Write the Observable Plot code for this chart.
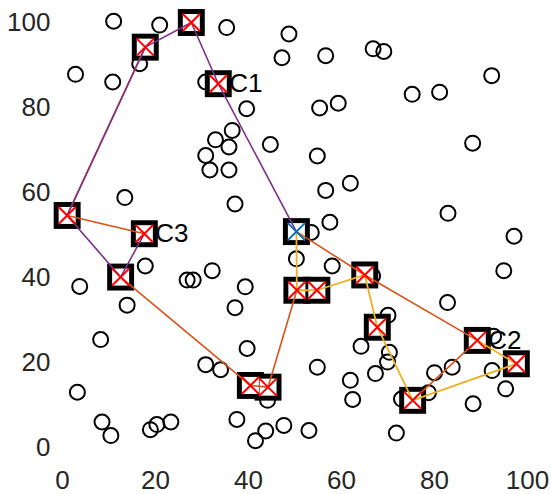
<!DOCTYPE html>
<html><head><meta charset="utf-8">
<script src="https://cdn.jsdelivr.net/npm/d3@7"></script>
<script src="https://cdn.jsdelivr.net/npm/@observablehq/plot@0.6"></script>
<style>body{margin:0;background:#fff} svg{display:block}</style>
</head><body><div id="chart"></div>
<script>
// scattered points (open circles)
const circleX = [11.0, 20.9, 2.8, 10.8, 16.6, 13.4, 35.3, 48.7, 47.2, 30.8,
  39.6, 36.5, 32.9, 35.8, 30.8, 31.7, 35.8, 44.7, 37.1, 56.6,
  66.8, 69.1, 55.3, 59.3, 75.2, 81.1, 54.8, 56.6, 61.9, 57.5,
  53.5, 92.3, 88.2, 82.9, 97.1, 94.9, 82.8, 92.7, 92.4, 95.3,
  83.8, 80.0, 88.3, 78.7, 50.3, 58.0, 66.7, 70.0, 64.2, 54.8,
  70.3, 69.9, 67.3, 61.9, 62.4, 72.9, 71.8, 53.0, 47.6, 43.7,
  41.5, 37.5, 23.3, 44.1, 30.8, 34.0, 39.7, 37.1, 39.3, 32.2,
  26.8, 28.1, 17.8, 3.7, 13.9, 8.2, 3.2, 8.5, 10.4, 18.9, 20.3];
const circleY = [100.3, 99.4, 87.8, 86.0, 90.3, 58.8, 98.8, 97.3, 91.7, 86.0,
  79.7, 74.6, 72.4, 70.7, 68.7, 65.3, 65.3, 71.3, 57.3, 92.2,
  93.8, 93.2, 79.9, 81.0, 83.1, 83.6, 68.6, 60.5, 62.2, 53.0,
  50.6, 87.5, 71.6, 55.1, 49.7, 41.6, 34.1, 26.2, 18.1, 13.8,
  18.9, 17.6, 10.3, 12.9, 44.4, 42.7, 40.4, 31.1, 23.8, 18.9,
  22.4, 20.1, 17.4, 15.8, 11.3, 11.4, 3.4, 4.0, 5.2, 3.9,
  1.6, 6.6, 6.0, 11.1, 19.5, 18.3, 23.3, 32.9, 37.8, 41.6,
  39.4, 39.4, 42.7, 37.9, 33.5, 25.4, 13.0, 6.0, 2.8, 4.2, 5.4];

// selected nodes (squares); index 0 is the depot (blue cross)
const nodeX = [50.3, 27.7, 17.8, 33.5, 1.0, 17.6, 12.5, 40.4, 44.2, 50.4, 54.7, 65.0, 67.7, 75.3, 89.2, 97.6];
const nodeY = [50.8, 100.0, 94.2, 85.6, 54.6, 50.3, 40.1, 14.6, 14.2, 37.0, 37.0, 40.6, 28.3, 11.1, 25.2, 19.7];

// routes as node index sequences
const orangeRoutes = [[2, 4, 5], [6, 7, 8, 9], [0, 11, 14, 13]];
const yellowRoute = [0, 9, 10, 11, 12, 13, 15, 14];
const purpleRoute = [0, 3, 1, 2, 4, 6, 5];

// labels
const labelNodes = [3, 14, 5];
const labelTexts = ["C1", "C2", "C3"];

const xTicks = [0, 20, 40, 60, 80, 100];
const yTicks = [0, 20, 40, 60, 80, 100];

const circles = circleX.map((x, i) => ({x, y: circleY[i]}));
const nodes = nodeX.map((x, i) => ({x, y: nodeY[i], i}));
const toLine = (route, key) => route.map(i => ({x: nodeX[i], y: nodeY[i], key}));
const orangeData = orangeRoutes.flatMap((r, k) => toLine(r, "o" + k));
const yellowData = toLine(yellowRoute, "y");
const purpleData = toLine(purpleRoute, "p");
const labels = labelNodes.map((n, k) => ({x: nodeX[n], y: nodeY[n], t: labelTexts[k]}));

const chart = Plot.plot({
  width: 551, height: 494,
  marginLeft: 62, marginRight: 24, marginTop: 22, marginBottom: 47,
  x: {domain: [0, 100], label: null},
  y: {domain: [0, 100], label: null},
  style: {fontFamily: "'Liberation Sans', Arial, sans-serif", fontSize: "26px", color: "#262626", background: "#fff"},
  marks: [
    Plot.axisX({ticks: xTicks, tickSize: 0, tickPadding: 23, fontSize: 26, label: null}),
    Plot.axisY({ticks: yTicks, tickSize: 0, tickPadding: 12, fontSize: 26, label: null}),
    Plot.dot(circles, {x: "x", y: "y", r: 7.5, stroke: "black", strokeWidth: 2, fill: "none"}),
    Plot.text(labels, {x: "x", y: "y", text: "t", dx: 11, textAnchor: "start", fontSize: 26, fill: "black"}),
    Plot.dot(nodes, {x: "x", y: "y", symbol: "square", r: 15.2, fill: "black", stroke: "none"}),
    Plot.dot(nodes, {x: "x", y: "y", symbol: "square", r: 9.6, fill: "white", stroke: "none"}),
    Plot.line(orangeData, {x: "x", y: "y", z: "key", stroke: "#D95319", strokeWidth: 1.6}),
    Plot.line(yellowData, {x: "x", y: "y", z: "key", stroke: "#EDB120", strokeWidth: 1.8}),
    Plot.line(purpleData, {x: "x", y: "y", z: "key", stroke: "#7E2F8E", strokeWidth: 1.6}),
    Plot.dot(nodes.filter(d => d.i !== 0), {x: "x", y: "y", symbol: "times", r: 8, stroke: "#FF0000", strokeWidth: 2}),
    Plot.dot(nodes.filter(d => d.i === 0), {x: "x", y: "y", symbol: "times", r: 8, stroke: "#0072BD", strokeWidth: 2})
  ]
});
document.getElementById("chart").appendChild(chart);
</script>
</body></html>
